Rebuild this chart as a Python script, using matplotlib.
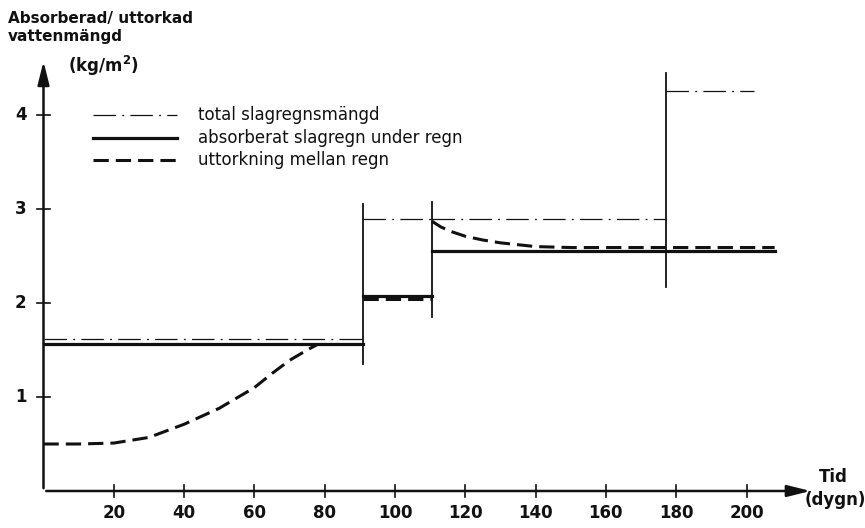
import numpy as np
import matplotlib.pyplot as plt

# total slagregnsmängd (dash-dot), per regnperiod
total_x = [[0, 91], [91, 110.5], [110.5, 177], [177, 202]]
total_y = [1.62, 2.89, 2.89, 4.26]

# absorberat slagregn under regn (solid)
abs_x = [[0, 91], [91, 110.5], [110.5, 208]]
abs_y = [1.56, 2.07, 2.55]

# uttorkning mellan regn (dashed)
dry1_x = [0, 10, 20, 30, 40, 50, 60, 65, 70, 75, 78]
dry1_y = [0.50, 0.50, 0.51, 0.57, 0.71, 0.88, 1.10, 1.25, 1.39, 1.50, 1.56]
dry2_x = [91, 110.5]
dry2_y = [2.04, 2.04]
dry3_x = [110.5, 113, 116, 120, 125, 130, 135, 140, 150, 208]
dry3_y = [2.87, 2.81, 2.76, 2.71, 2.67, 2.64, 2.62, 2.60, 2.59, 2.59]

# rain period boundaries (vertical lines): x, y_low, y_high
bounds_x = [91, 110.5, 177]
bounds_lo = [1.35, 1.85, 2.17]
bounds_hi = [3.05, 3.07, 4.45]

xticks = [20, 40, 60, 80, 100, 120, 140, 160, 180, 200]
yticks = [1, 2, 3, 4]

fig = plt.figure(figsize=(8.65, 5.28), dpi=100)
ax = fig.add_axes([0, 0, 1, 1])
ax.axis('off')

# pixel -> data mapping: x px = 43.5 + 3.515*x ; y px = 491 - 94*y
ax.set_xlim(-43.5 / 3.515, (865 - 43.5) / 3.515)
ax.set_ylim(-(528 - 491) / 94, 491 / 94)

ink = '#111111'
font = dict(family='DejaVu Sans', color=ink)
dashdot = (0, (18, 5, 1.5, 5))
dashed = (0, (5, 2.3))

# axes with arrows
ax.annotate('', xy=(219, 0), xytext=(0, 0),
            arrowprops=dict(arrowstyle='-|>,head_length=1.4,head_width=0.35', color=ink, lw=1.8))
ax.annotate('', xy=(0, 4.6), xytext=(0, 0),
            arrowprops=dict(arrowstyle='-|>,head_length=1.4,head_width=0.35', color=ink, lw=1.8))

for t in xticks:
    ax.plot([t, t], [-0.06, 0.06], color=ink, lw=1.2)
    ax.text(t, -0.23, str(t), ha='center', va='center', fontsize=12, fontweight='bold', **font)
for t in yticks:
    ax.plot([-1.8, 1.8], [t, t], color=ink, lw=1.2)
    ax.text(-6.5, t, str(t), ha='center', va='center', fontsize=12, fontweight='bold', **font)

# curves
for xs, y in zip(total_x, total_y):
    ax.plot(xs, [y, y], color=ink, lw=0.9, linestyle=dashdot)
for xs, y in zip(abs_x, abs_y):
    ax.plot(xs, [y, y], color=ink, lw=2.3)
ax.plot(dry1_x, dry1_y, color=ink, lw=2.2, linestyle=dashed)
ax.plot(dry2_x, dry2_y, color=ink, lw=2.2, linestyle=dashed)
ax.plot(dry3_x, dry3_y, color=ink, lw=2.2, linestyle=dashed)
for x, lo, hi in zip(bounds_x, bounds_lo, bounds_hi):
    ax.plot([x, x], [lo, hi], color=ink, lw=1.3)

# legend drawn by hand
leg_y = [4.0, 3.76, 3.52]
ax.plot([14, 38], [leg_y[0]] * 2, color=ink, lw=0.9, linestyle=dashdot)
ax.plot([14, 38], [leg_y[1]] * 2, color=ink, lw=2.3)
ax.plot([14, 38], [leg_y[2]] * 2, color=ink, lw=2.2, linestyle=dashed)
leg_labels = ['total slagregnsmängd', 'absorberat slagregn under regn', 'uttorkning mellan regn']
for y, s in zip(leg_y, leg_labels):
    ax.text(44, y, s, ha='left', va='center', fontsize=12, **font)

# axis titles
fig.text(8 / 865, 1 - 18 / 528, 'Absorberad/ uttorkad', ha='left', va='center',
         fontsize=11, fontweight='bold', **font)
fig.text(8 / 865, 1 - 37 / 528, 'vattenmängd', ha='left', va='center',
         fontsize=11, fontweight='bold', **font)
fig.text(68 / 865, 1 - 66 / 528, '(kg/m$^\\mathbf{2}$)', ha='left', va='center',
         fontsize=12, fontweight='bold', **font)
fig.text(833 / 865, 1 - 477 / 528, 'Tid', ha='center', va='center',
         fontsize=12, fontweight='bold', **font)
fig.text(835 / 865, 1 - 500 / 528, '(dygn)', ha='center', va='center',
         fontsize=12, fontweight='bold', **font)

fig.savefig('out.png', dpi=100, facecolor='white')
